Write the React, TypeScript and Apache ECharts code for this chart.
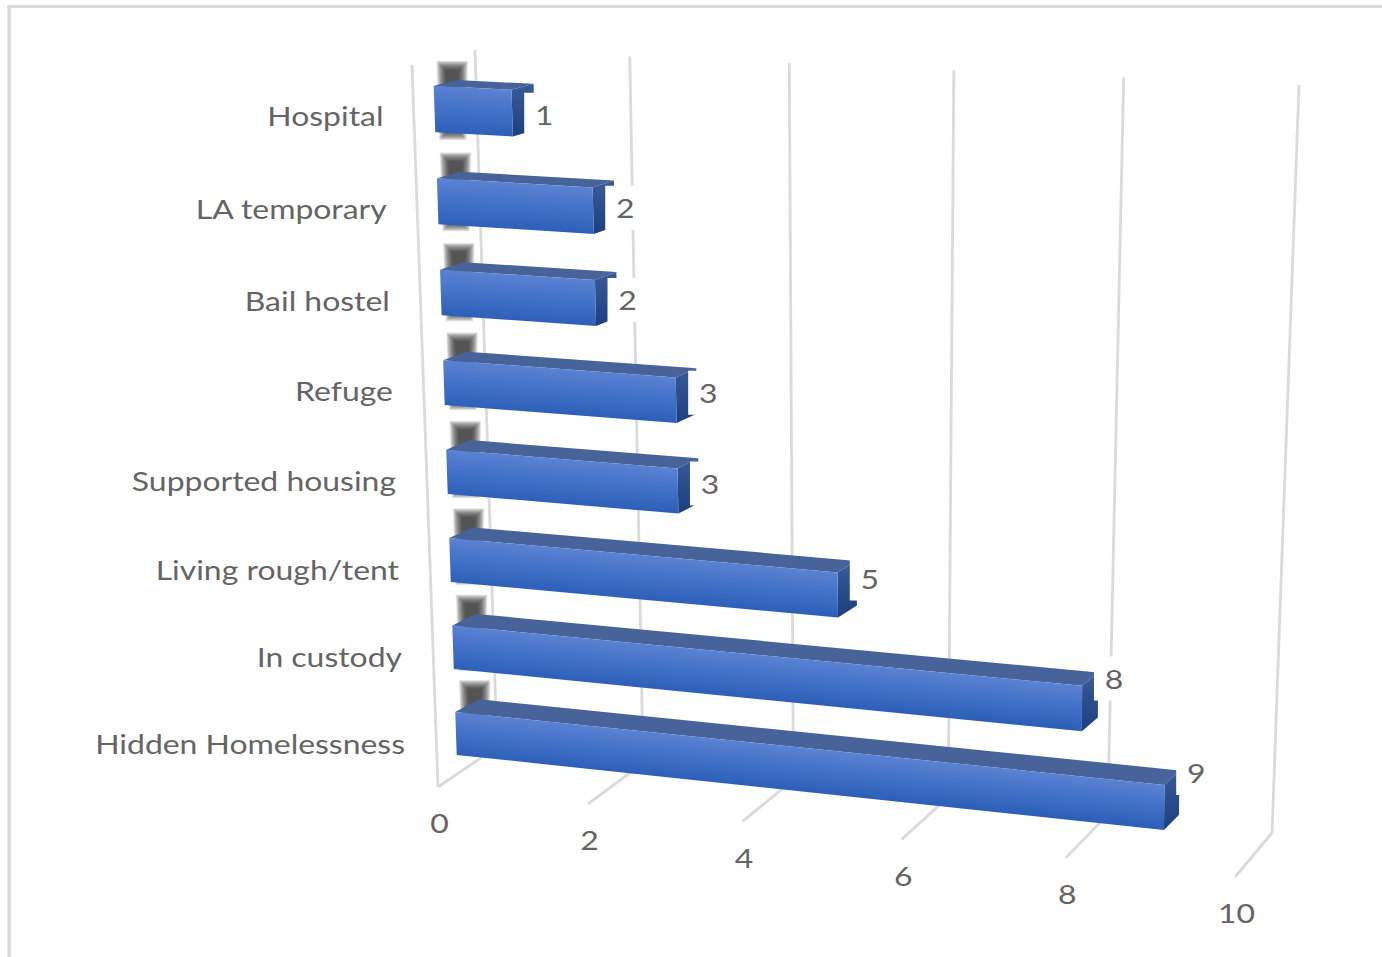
import React, { useEffect, useRef } from "react";
import * as echarts from "echarts";

const categories = ["Hospital", "LA temporary", "Bail hostel", "Refuge", "Supported housing", "Living rough/tent", "In custody", "Hidden Homelessness"];
const values = [1, 2, 2, 3, 3, 5, 8, 9];
const tickValues = [0, 2, 4, 6, 8, 10];

const W = 1382, H = 957;
const GRID = { left: 100, top: 100, width: 1000, height: 700 };
type P = [number, number];

function homography(p0: P, p1: P, p2: P, p3: P) {
  const dx1 = p1[0] - p2[0], dx2 = p3[0] - p2[0], sx = p0[0] - p1[0] + p2[0] - p3[0];
  const dy1 = p1[1] - p2[1], dy2 = p3[1] - p2[1], sy = p0[1] - p1[1] + p2[1] - p3[1];
  const den = dx1 * dy2 - dx2 * dy1;
  const g = (sx * dy2 - dx2 * sy) / den, h = (dx1 * sy - sx * dy1) / den;
  const a = p1[0] - p0[0] + g * p1[0], b = p3[0] - p0[0] + h * p3[0], c = p0[0];
  const d = p1[1] - p0[1] + g * p1[1], e = p3[1] - p0[1] + h * p3[1], f = p0[1];
  return (u: number, w: number): P => {
    const q = g * u + h * w + 1;
    return [(a * u + b * w + c) / q, (d * u + e * w + f) / q];
  };
}
// A straight line with foreshortening g along it
const perspectiveLine = (p0: P, p1: P, g: number) => (u: number): P => {
  const s = ((1 + g) * u) / (1 + g * u);
  return [p0[0] + (p1[0] - p0[0]) * s, p0[1] + (p1[1] - p0[1]) * s];
};

// Projection planes: (axis fraction across, row fraction down) -> picture
const frontPlane = homography([434.5, 109], [1259, 153], [1248, 816.3], [456, 733.5]);
const backPlane = homography([457.5, 103], [1273, 145], [1262, 801.3], [480, 720.5]);
const wallPlane = homography([475, 50], [1299, 85], [1272, 833], [497, 747]);
const floorFront = perspectiveLine([438, 787], [1235, 877], -0.0726);
const wallEdgeTop: P = [412, 65];

const BAR_HALF = 0.25;
const TEXT = "#646464";
const LINE = "#dadada";
const FONT = "Lato";
const FONT_SIZE = 26.5;
const TEXT_STRETCH = 1.205;
const SHADE_LAYERS = 18;

function norm(pt: number[]) {
  return [(pt[0] - GRID.left) / GRID.width, (pt[1] - GRID.top) / GRID.height];
}
const pts = (...p: P[]) => p.map((q) => [q[0], q[1]]);
const barFaces = (api: any) => {
  const [u, w] = norm(api.coord([api.value(0), api.value(1)]));
  const [u0] = norm(api.coord([0, api.value(1)]));
  const half = (BAR_HALF * api.size([0, 1])[1]) / GRID.height;
  return {
    w,
    ft0: frontPlane(u0, w - half), ft1: frontPlane(u, w - half),
    fb0: frontPlane(u0, w + half), fb1: frontPlane(u, w + half),
    bt0: backPlane(u0, w - half), bt1: backPlane(u, w - half),
    bb0: backPlane(u0, w + half), bb1: backPlane(u, w + half),
    centre: frontPlane(u, w), left: frontPlane(u0, w),
  };
};
const labelPos = (api: any): P => {
  const f = barFaces(api);
  const v = api.value(0) as number;
  return [f.centre[0] + 32, f.centre[1] + 1.5 - 4.5 * (v - 1)];
};

function renderGrid(_: any, api: any) {
  const t = api.value(0);
  const [u] = norm(api.coord([t, 0]));
  const top = wallPlane(u, 0), bot = wallPlane(u, 1), fr = floorFront(u);
  const style = { stroke: LINE, lineWidth: 2.8, fill: "none" };
  const children: any[] = [{ type: "polyline", shape: { points: pts(top, bot, fr) }, style }];
  if (t === tickValues[0]) children.push({ type: "line", shape: { x1: wallEdgeTop[0], y1: wallEdgeTop[1], x2: fr[0], y2: fr[1] }, style });
  return { type: "group", children };
}
function renderSmudge(_: any, api: any) {
  const f = barFaces(api);
  const children: any[] = [];
  for (let k = 0; k < SHADE_LAYERS; k++) {
    const e = k * 0.55;
    children.push({
      type: "polygon",
      shape: { points: pts([f.bt0[0] - 11 - e, f.bt0[1] - 10 - e], [f.bt0[0] + 2 + e, f.bt0[1] - 10 - e], [f.bb0[0] - 1 + e, f.bb0[1] + 5 + e], [f.bb0[0] - 10 - e, f.bb0[1] + 5 + e]) },
      style: { fill: "#303030", opacity: 0.085 },
    });
  }
  return { type: "group", children };
}
function renderBar(_: any, api: any) {
  const f = barFaces(api);
  const ex = f.ft1[0] - f.ft0[0], ey = f.ft1[1] - f.ft0[1];
  const len = Math.hypot(ex, ey);
  const nx = -ey / len, ny = ex / len;
  const th = (f.fb0[0] - f.ft0[0]) * nx + (f.fb0[1] - f.ft0[1]) * ny;
  const grad = new echarts.graphic.LinearGradient(f.ft0[0], f.ft0[1], f.ft0[0] + nx * th, f.ft0[1] + ny * th,
    [{ offset: 0, color: "#5b82d3" }, { offset: 0.5, color: "#4271c8" }, { offset: 1, color: "#2e60b7" }], true);
  return {
    type: "group",
    children: [
      { type: "polygon", shape: { points: pts(f.ft0, f.bt0, f.bt1, f.ft1) }, style: { fill: "#476399" } },
      { type: "polygon", shape: { points: pts(f.ft1, f.bt1, f.bb1, f.fb1) }, style: {
        fill: new echarts.graphic.LinearGradient(0, 0, 0, 1, [{ offset: 0, color: "#3a5b98" }, { offset: 1, color: "#1e3f7e" }]) } },
      { type: "polygon", shape: { points: pts(f.ft0, f.ft1, f.fb1, f.fb0) }, style: { fill: grad } },
    ],
  };
}
function renderLabelBox(_: any, api: any) {
  const [x, y] = labelPos(api);
  return { type: "rect", shape: { x: x - 20, y: y - 22, width: 40, height: 44 }, style: { fill: "#ffffff" } };
}
const textEl = (text: string, x: number, y: number, align: string) => ({
  type: "text", x, y, scaleX: TEXT_STRETCH,
  style: { text, x: 0, y: 0, fill: TEXT, fontFamily: FONT, fontSize: FONT_SIZE, align, verticalAlign: "middle", textAlign: align, textVerticalAlign: "middle" },
});
function renderValueLabel(_: any, api: any) {
  const [x, y] = labelPos(api);
  return textEl(String(api.value(0)), x, y, "center");
}
function renderCategory(_: any, api: any) {
  const f = barFaces(api);
  return textEl(categories[api.value(1)], f.left[0] - 51, f.left[1] + 7 + 3 * f.w, "right");
}
function renderTick(_: any, api: any) {
  const t = api.value(0);
  const [u] = norm(api.coord([t, 0]));
  const fr = floorFront(u);
  return textEl(String(t), fr[0] + 1.5, fr[1] + 36, "center");
}

export default function App() {
  const ref = useRef<HTMLDivElement>(null);
  useEffect(() => {
    document.body.style.margin = "0";
    const chart = echarts.init(ref.current!, undefined, { renderer: "svg" });
    const barData = values.map((v, i) => [v, i]);
    const tickData = tickValues.map((t) => [t, 0]);
    const base = { type: "custom", silent: true, clip: false };
    chart.setOption({
      animation: false,
      backgroundColor: "#ffffff",
      grid: { ...GRID },
      xAxis: { type: "value", min: 0, max: 10, interval: 2, show: false },
      yAxis: { type: "category", data: categories, inverse: true, boundaryGap: false, show: false },
      graphic: [
        { type: "rect", silent: true, z: 0, shape: { x: 7.5, y: 5, width: 3.5, height: H - 5 }, style: { fill: LINE } },
        { type: "rect", silent: true, z: 0, shape: { x: 7.5, y: 5, width: W - 7.5, height: 3 }, style: { fill: LINE } },
      ],
      series: [
        { ...base, name: "grid", z: 1, data: tickData, renderItem: renderGrid },
        { ...base, name: "shade", z: 2, data: barData, renderItem: renderSmudge },
        { ...base, name: "bars", z: 3, data: barData, renderItem: renderBar },
        { ...base, name: "boxes", z: 4, data: barData, renderItem: renderLabelBox },
        { ...base, name: "values", z: 5, data: barData, renderItem: renderValueLabel },
        { ...base, name: "cats", z: 5, data: barData, renderItem: renderCategory },
        { ...base, name: "ticks", z: 5, data: tickData, renderItem: renderTick },
      ],
    });
    return () => chart.dispose();
  }, []);
  return <div ref={ref} style={{ width: W, height: H }} />;
}
